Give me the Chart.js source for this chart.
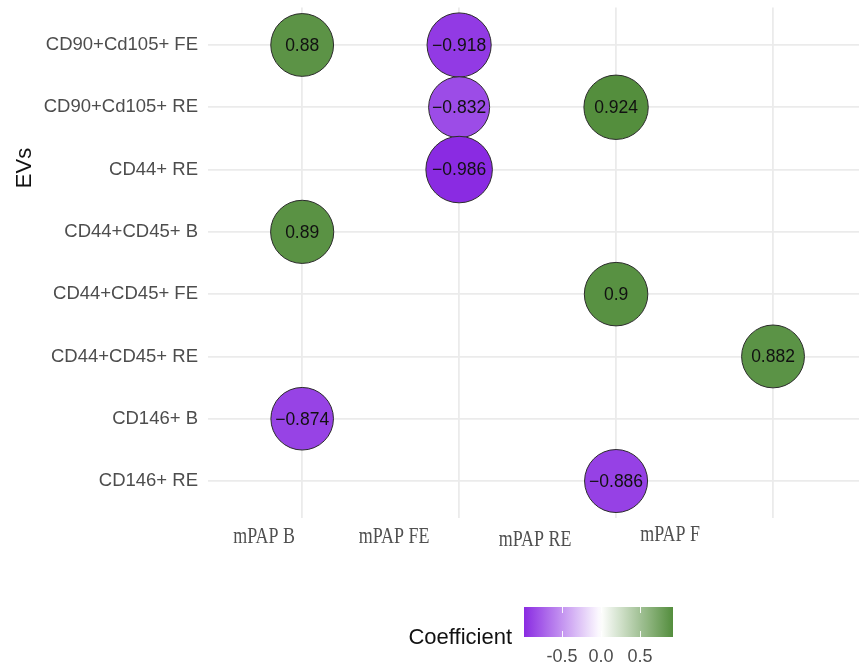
<!DOCTYPE html>
<html>
<head>
<meta charset="utf-8">
<script src="https://cdn.jsdelivr.net/npm/chart.js@4/dist/chart.umd.min.js"></script>
<style>
  html, body { margin: 0; padding: 0; background: #ffffff; overflow: hidden; }
  #wrap { width: 859px; height: 666px; position: relative; }
</style>
</head>
<body>
<div id="wrap"><canvas id="chart" width="859" height="666"></canvas></div>
<script>
// EV populations (rows, top to bottom)
const evs = [
  'CD90+Cd105+ FE',
  'CD90+Cd105+ RE',
  'CD44+ RE',
  'CD44+CD45+ B',
  'CD44+CD45+ FE',
  'CD44+CD45+ RE',
  'CD146+ B',
  'CD146+ RE'
];

// Pressure measurements (columns)
const measures = ['mPAP B', 'mPAP FE', 'mPAP RE', 'mPAP F'];

// Significant correlation coefficients, one row per EV population
const coefficients = [
  [0.88, -0.918, null, null],
  [null, -0.832, 0.924, null],
  [null, -0.986, null, null],
  [0.89, null, null, null],
  [null, null, 0.9, null],
  [null, null, null, 0.882],
  [-0.874, null, null, null],
  [null, null, -0.886, null]
];

// Colour-bar tick labels
const legendTicks = [-0.5, 0.0, 0.5];

// ---- colour scale: purple - white - green, centred on zero ----
const LOW = [138, 43, 226];
const MID = [255, 255, 255];
const HIGH = [72, 134, 48];
const allVals = coefficients.flat().filter(v => v !== null);
const vMin = Math.min(...allVals);
const vMax = Math.max(...allVals);
const vAbs = Math.max(Math.abs(vMin), Math.abs(vMax));

function fillFor(v) {
  const t = Math.min(1, Math.abs(v) / vAbs);
  const end = v < 0 ? LOW : HIGH;
  const c = MID.map((m, i) => Math.round(m + (end[i] - m) * t));
  return `rgb(${c[0]},${c[1]},${c[2]})`;
}

function radiusFor(v) {
  return 34 * Math.sqrt(Math.abs(v)) - 0.5;
}

function fmt(v) {
  const s = String(Math.abs(v));
  return v < 0 ? '\u2212' + s : s;
}

// Build bubble points from the coefficient table
const points = [];
coefficients.forEach((row, r) => {
  row.forEach((v, c) => {
    if (v !== null) points.push({ x: c, y: r, r: radiusFor(v), v: v });
  });
});

// ---- layout constants ----
const PLOT_LEFT = 208;
const PLOT_TOP = 7.6;
const PLOT_BOTTOM = 518.4;
const X_LABEL_SHIFT = [-38, -65, -81, -103];
const X_LABEL_DROP = [19, 19, 22, 17];

const SANS = '"Liberation Sans", Arial, sans-serif';

// Value labels inside the bubbles
const valueLabels = {
  id: 'valueLabels',
  afterDatasetsDraw(chart) {
    const ctx = chart.ctx;
    const meta = chart.getDatasetMeta(0);
    ctx.save();
    ctx.font = '17.5px ' + SANS;
    ctx.fillStyle = '#111111';
    ctx.textAlign = 'center';
    ctx.textBaseline = 'middle';
    meta.data.forEach((el, i) => {
      const p = chart.data.datasets[0].data[i];
      ctx.fillText(fmt(p.v), el.x, el.y + 1);
    });
    ctx.restore();
  }
};

// Column labels, axis title and colour-bar legend
const decorations = {
  id: 'decorations',
  afterDraw(chart) {
    const ctx = chart.ctx;
    const xs = chart.scales.x;
    const area = chart.chartArea;
    ctx.save();

    // column labels (serif, narrow)
    ctx.fillStyle = '#505050';
    ctx.font = '23px "Liberation Serif", "Times New Roman", serif';
    ctx.textAlign = 'center';
    ctx.textBaseline = 'middle';
    measures.forEach((m, i) => {
      const cx = xs.getPixelForValue(i) + X_LABEL_SHIFT[i];
      const cy = area.bottom + X_LABEL_DROP[i];
      ctx.save();
      ctx.translate(cx, cy);
      ctx.scale(0.78, 1);
      ctx.fillText(m, 0, 0);
      ctx.restore();
    });

    // y-axis title
    ctx.save();
    ctx.translate(25, 168);
    ctx.rotate(-Math.PI / 2);
    ctx.font = '22px ' + SANS;
    ctx.fillStyle = '#111111';
    ctx.textAlign = 'center';
    ctx.textBaseline = 'middle';
    ctx.fillText('EVs', 0, 0);
    ctx.restore();

    // colour bar
    const barL = 524, barR = 673, barT = 607, barB = 637;
    const toPx = v => barL + (v - vMin) / (vMax - vMin) * (barR - barL);
    const grad = ctx.createLinearGradient(barL, 0, barR, 0);
    const steps = 40;
    for (let k = 0; k <= steps; k++) {
      const v = vMin + (vMax - vMin) * k / steps;
      grad.addColorStop(k / steps, fillFor(v));
    }
    ctx.fillStyle = grad;
    ctx.fillRect(barL, barT, barR - barL, barB - barT);

    ctx.strokeStyle = 'rgba(255,255,255,0.9)';
    ctx.lineWidth = 1;
    legendTicks.forEach(t => {
      const px = Math.round(toPx(t)) + 0.5;
      ctx.beginPath();
      ctx.moveTo(px, barT); ctx.lineTo(px, barT + 6);
      ctx.moveTo(px, barB - 6); ctx.lineTo(px, barB);
      ctx.stroke();
    });

    ctx.fillStyle = '#4d4d4d';
    ctx.font = '18px ' + SANS;
    ctx.textAlign = 'center';
    ctx.textBaseline = 'middle';
    legendTicks.forEach(t => {
      ctx.fillText(t.toFixed(1), toPx(t), 657);
    });

    ctx.fillStyle = '#111111';
    ctx.font = '22px ' + SANS;
    ctx.textAlign = 'right';
    ctx.fillText('Coefficient', 512, 638);

    ctx.restore();
  }
};

new Chart(document.getElementById('chart'), {
  type: 'bubble',
  data: {
    datasets: [{
      data: points,
      backgroundColor: points.map(p => fillFor(p.v)),
      borderColor: '#2b2b2b',
      borderWidth: 1
    }]
  },
  options: {
    responsive: false,
    animation: false,
    events: [],
    layout: { autoPadding: false, padding: { top: PLOT_TOP, right: 0, left: 0, bottom: 0 } },
    plugins: { legend: { display: false }, tooltip: { enabled: false } },
    scales: {
      x: {
        type: 'linear',
        min: -0.6,
        max: 3 + (859 - 773) / 157,
        afterBuildTicks: s => { s.ticks = measures.map((_, i) => ({ value: i })); },
        afterFit: s => {
          s.height = 666 - PLOT_BOTTOM;
          s.paddingLeft = 0; s.paddingRight = 0;
        },
        ticks: { display: false },
        grid: { color: '#ebebeb', lineWidth: 1.8, drawTicks: false },
        border: { display: false }
      },
      y: {
        type: 'linear',
        reverse: true,
        min: -0.6,
        max: 7.6,
        afterBuildTicks: s => { s.ticks = evs.map((_, i) => ({ value: i })); },
        afterFit: s => {
          s.width = PLOT_LEFT;
          s.paddingTop = 0; s.paddingBottom = 0;
        },
        ticks: {
          padding: 10,
          color: '#4d4d4d',
          font: { family: SANS, size: 18.5 },
          callback: v => evs[v]
        },
        grid: { color: '#ebebeb', lineWidth: 1.8, drawTicks: false },
        border: { display: false }
      }
    }
  },
  plugins: [valueLabels, decorations]
});
</script>
</body>
</html>
